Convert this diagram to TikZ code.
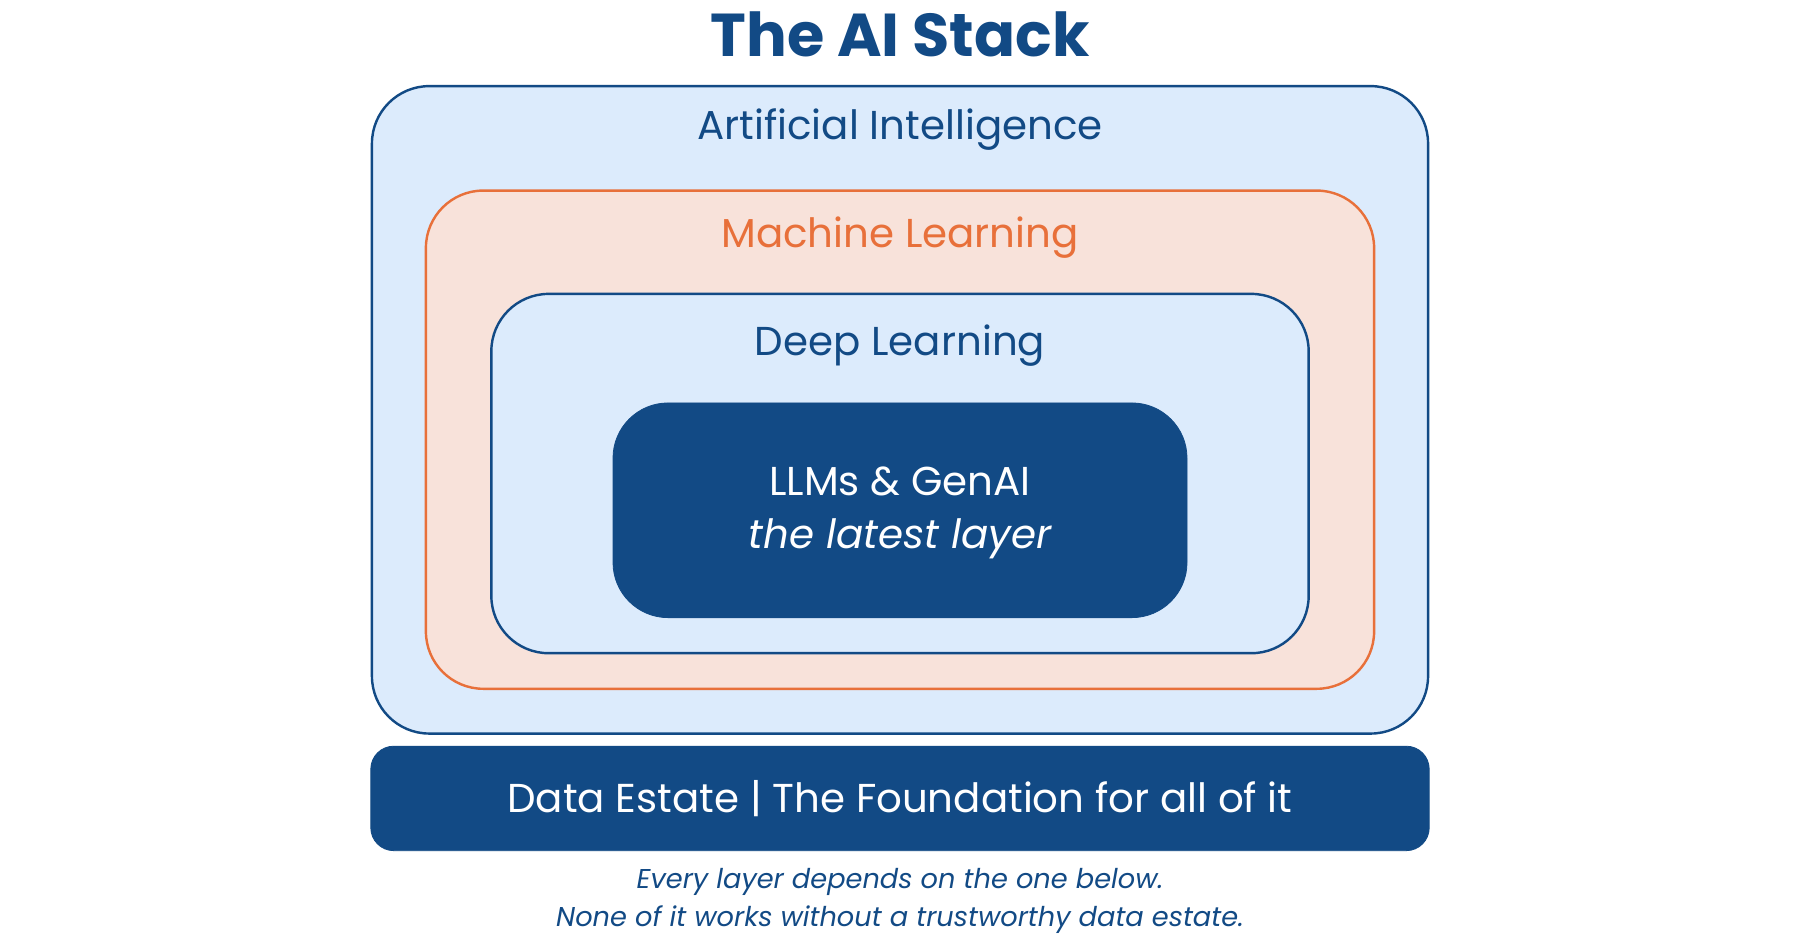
\documentclass[tikz,border=0pt]{standalone}
\usepackage{fontspec}
\setmainfont{Poppins}
\definecolor{navy}{HTML}{124A85}
\definecolor{lblue}{HTML}{DCEBFC}
\definecolor{orng}{HTML}{E8703A}
\definecolor{peach}{HTML}{F8E2DA}
\begin{document}
\begin{tikzpicture}[x=0.02cm,y=-0.02cm,
  layer/.style={line width=1.2pt},
  lbl/.style={font=\fontsize{20}{24}\selectfont, inner sep=0pt}]
\useasboundingbox[fill=white] (0,0) rectangle (1568,823);
\node[font=\fontsize{30}{36}\selectfont\bfseries, text=navy] (title) at (784,30) {The AI Stack};
\draw[layer, draw=navy, fill=lblue, rounded corners=50*0.02cm] (324,75) rectangle (1244,639);
\node[lbl, text=navy] (ai) at (784,113) {Artificial Intelligence};
\draw[layer, draw=orng, fill=peach, rounded corners=50*0.02cm] (371,166) rectangle (1197,600);
\node[lbl, text=orng] (ml) at (784,207) {Machine Learning};
\draw[layer, draw=navy, fill=lblue, rounded corners=50*0.02cm] (428,256) rectangle (1140,569);
\node[lbl, text=navy] (dl) at (784,301) {Deep Learning};
\draw[fill=navy, draw=navy, rounded corners=48*0.02cm] (534,351) rectangle (1034,538);
\node[lbl, text=white] (llm) at (784,419) {LLMs \& GenAI};
\node[lbl, text=white, font=\fontsize{20}{24}\selectfont\itshape] (latest) at (784,469) {the latest layer};
\draw[fill=navy, draw=navy, rounded corners=20*0.02cm] (323,650) rectangle (1245,741);
\node[lbl, text=white] (data) at (784,696) {Data Estate | The Foundation for all of it};
\node[text=navy, font=\fontsize{13.5}{19}\selectfont\itshape, align=center] (foot) at (784,785) {Every layer depends on the one below.\\None of it works without a trustworthy data estate.};
\end{tikzpicture}
\end{document}
